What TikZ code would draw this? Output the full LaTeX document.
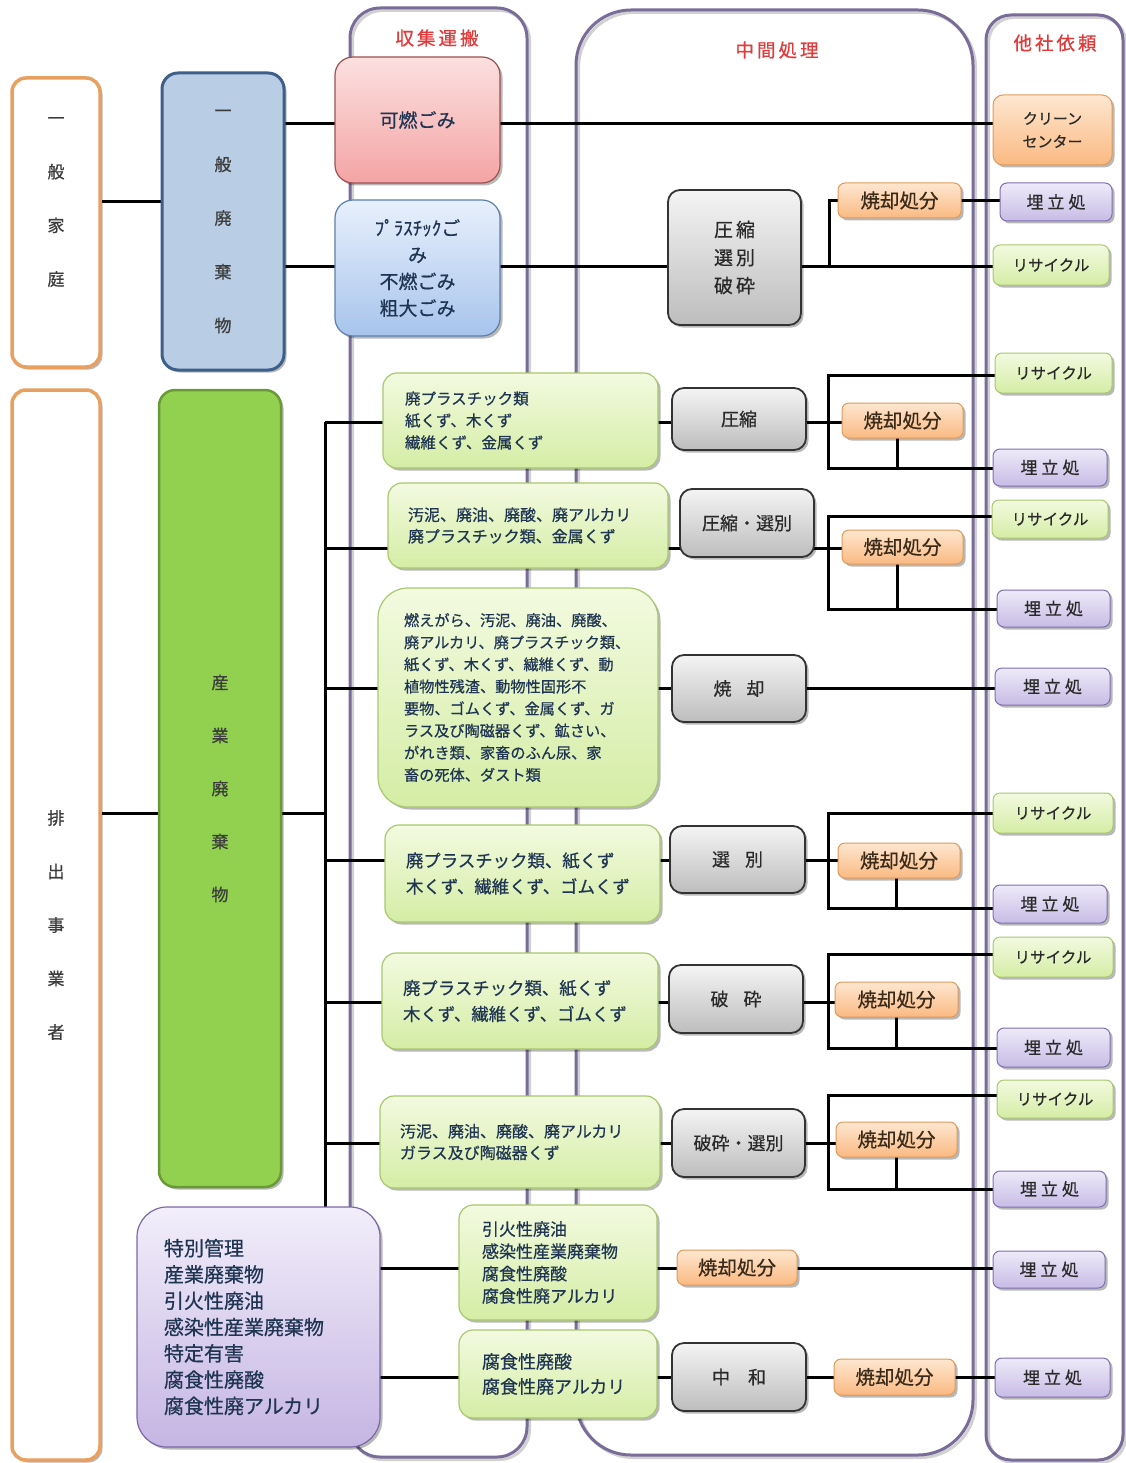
\documentclass[tikz,border=0pt]{standalone}
\usepackage{fontspec}
\setmainfont{Noto Sans CJK JP}[FakeBold=0.6]
\usetikzlibrary{shadows,calc}
\definecolor{cOrangeBd}{HTML}{E8A060}
\definecolor{cBlueFill}{HTML}{B9CDE5}
\definecolor{cBlueBd}{HTML}{3E5F8A}
\definecolor{cSangyoFill}{HTML}{92D050}
\definecolor{cSangyoBd}{HTML}{6A9A35}
\definecolor{cRedTop}{HTML}{FCE0E0}
\definecolor{cRedBot}{HTML}{F4A4A4}
\definecolor{cRedBd}{HTML}{A05050}
\definecolor{cPlaTop}{HTML}{E8F0FC}
\definecolor{cPlaBot}{HTML}{A7C4EC}
\definecolor{cPlaBd}{HTML}{5C7FB0}
\definecolor{cGreenTop}{HTML}{F3FAE0}
\definecolor{cGreenBot}{HTML}{D4EDA5}
\definecolor{cGreenBd}{HTML}{A9C86E}
\definecolor{cGrayTop}{HTML}{F4F4F4}
\definecolor{cGrayBot}{HTML}{BDBDBD}
\definecolor{cGrayBd}{HTML}{333333}
\definecolor{cOrTop}{HTML}{FEE7D0}
\definecolor{cOrBot}{HTML}{FAB982}
\definecolor{cOrBd}{HTML}{DF9A5A}
\definecolor{cPurTop}{HTML}{EEEAF8}
\definecolor{cPurBot}{HTML}{C7BCE6}
\definecolor{cPurBd}{HTML}{7F6FAF}
\definecolor{cTokuTop}{HTML}{F2EEFA}
\definecolor{cTokuBot}{HTML}{C5B5E3}
\definecolor{cTokuBd}{HTML}{7B68A6}
\definecolor{cCol}{HTML}{7A6C98}
\definecolor{cTitle}{HTML}{E23A3A}
\definecolor{cNavy}{HTML}{1F3552}
\definecolor{cDark}{HTML}{2A2A2A}
\definecolor{cBrown}{HTML}{3A2A1A}
\definecolor{cTxtGray}{HTML}{3C3C3C}

\pgfdeclarelayer{bg}
\pgfsetlayers{bg,main}

\newcommand{\mkbox}[7]{\node[#1, minimum width={(#5)-(#3)}, minimum height={(#6)-(#4)}] (#2) at ({((#3)+(#5))/2},{((#4)+(#6))/2}) {#7};}

\tikzset{
  every node/.style={inner sep=0pt, outer sep=0pt},
  shad/.style={drop shadow={shadow xshift=2.5pt,shadow yshift=-2.5pt,opacity=0.28,fill=black}},
  kateibox/.style={draw=cOrangeBd, line width=3.5pt, fill=white, rounded corners=14pt, shad, text=cTxtGray, align=center, font=\fontsize{17}{53.5}\selectfont},
  ippanbox/.style={draw=cBlueBd, line width=3pt, fill=cBlueFill, rounded corners=16pt, shad, text=cTxtGray, align=center, font=\fontsize{17}{53.7}\selectfont},
  sangyobox/.style={draw=cSangyoBd, line width=2.5pt, fill=cSangyoFill, rounded corners=16pt, shad, text=cTxtGray, align=center, font=\fontsize{17}{53}\selectfont},
  kanenbox/.style={draw=cRedBd, line width=1.2pt, top color=cRedTop, bottom color=cRedBot, rounded corners=18pt, shad, text=cNavy, align=center, font=\fontsize{19}{26.7}\selectfont},
  plabox/.style={draw=cPlaBd, line width=1.2pt, top color=cPlaTop, bottom color=cPlaBot, rounded corners=18pt, shad, text=cNavy, align=center, font=\fontsize{19}{26.7}\selectfont},
  greenbox/.style={draw=cGreenBd, line width=1.2pt, top color=cGreenTop, bottom color=cGreenBot, rounded corners=14pt, shad, text=cNavy, align=left},
  procbox/.style={draw=cGrayBd, line width=1.8pt, top color=cGrayTop, bottom color=cGrayBot, rounded corners=12pt, shad, text=cDark, align=center, font=\fontsize{18}{28}\selectfont},
  burnbox/.style={draw=cOrBd, line width=1pt, top color=cOrTop, bottom color=cOrBot, rounded corners=7pt, shad, text=cBrown, font=\fontsize{19.5}{22}\selectfont},
  landbox/.style={draw=cPurBd, line width=1pt, top color=cPurTop, bottom color=cPurBot, rounded corners=7pt, shad, text=cDark, font=\fontsize{17}{20}\selectfont},
  recbox/.style={draw=cGreenBd, line width=1pt, top color=cGreenTop, bottom color=cGreenBot, rounded corners=7pt, shad, text=cDark, font=\fontsize{15.5}{20}\selectfont},
  cleanbox/.style={draw=cOrBd, line width=1pt, top color=cOrTop, bottom color=cOrBot, rounded corners=10pt, shad, text=cDark, align=center, font=\fontsize{15}{23}\selectfont},
  tokubox/.style={draw=cTokuBd, line width=1.2pt, top color=cTokuTop, bottom color=cTokuBot, rounded corners=30pt, shad, text=cNavy, align=left, font=\fontsize{20}{26.3}\selectfont},
  conn/.style={line width=3pt, black},
  colline/.style={line width=3pt, draw=cCol},
  colshade/.style={line width=3pt, draw=black!18},
  coltitle/.style={text=cTitle, font=\fontsize{18.5}{20}\selectfont},
}

\begin{document}
\begin{tikzpicture}[x=1pt,y=-1pt]
\useasboundingbox (0,0) rectangle (1126,1463);
\begin{pgfonlayer}{bg}
\fill[white] (0,0) rectangle (1126,1463);
% columns
\draw[colshade, rounded corners=30pt] (352.5,10.5) rectangle (529.5,1459.5);
\draw[colshade, rounded corners=55pt] (578.5,12.5) rectangle (975.5,1457.5);
\draw[colshade, rounded corners=25pt] (988.5,17.5) rectangle (1125.5,1462.5);
\draw[colline, rounded corners=30pt] (350,8) rectangle (527,1457);
\draw[colline, rounded corners=55pt] (576,10) rectangle (973,1455);
\draw[colline, rounded corners=25pt] (986,15) rectangle (1123,1460);
\end{pgfonlayer}

% column titles
\node[coltitle] (tCollect) at (437,38) {収\hspace{3pt}集\hspace{3pt}運\hspace{3pt}搬};
\node[coltitle] (tMiddle) at (777,50) {中\hspace{3pt}間\hspace{3pt}処\hspace{3pt}理};
\node[coltitle] (tOther) at (1055,43) {他\hspace{3pt}社\hspace{3pt}依\hspace{3pt}頼};

% left column
\mkbox{kateibox}{katei}{12}{78}{100}{367}{}
\node[text=cTxtGray, align=center, font=\fontsize{17}{53.7}\selectfont] (kateiTxt) at (56,202) {一\\般\\家\\庭};
\mkbox{kateibox}{haishutsu}{12}{390}{100}{1460}{排\\出\\事\\業\\者}

\mkbox{ippanbox}{ippan}{162}{73}{284}{370}{一\\般\\廃\\棄\\物}
\mkbox{sangyobox}{sangyo}{159}{390}{281}{1187}{産\\業\\廃\\棄\\物}

% collection column
\mkbox{kanenbox}{kanen}{335}{57}{500}{183}{可燃ごみ}
\mkbox{plabox}{pla}{335}{200}{500}{336}{ﾌﾟﾗｽﾁｯｸご\\み\\不燃ごみ\\粗大ごみ}

\mkbox{greenbox, text width=231pt, inner xsep=22pt, font=\fontsize{15.5}{22}\selectfont}{g1}{383}{373}{658}{468}{廃プラスチック類\\紙くず、木くず\\繊維くず、金属くず}
\mkbox{greenbox, text width=240pt, inner xsep=20pt, font=\fontsize{16}{21.5}\selectfont}{g2}{388}{483}{668}{568}{汚泥、廃油、廃酸、廃アルカリ\\廃プラスチック類、金属くず}
\mkbox{greenbox, rounded corners=30pt, text width=228pt, inner xsep=26pt, font=\fontsize{15.2}{22.1}\selectfont}{g3}{378}{588}{658}{807}{燃えがら、汚泥、廃油、廃酸、\\廃アルカリ、廃プラスチック類、\\紙くず、木くず、繊維くず、動\\植物性残渣、動物性固形不\\要物、ゴムくず、金属くず、ガ\\ラス及び陶磁器くず、鉱さい、\\がれき類、家畜のふん尿、家\\畜の死体、ダスト類}
\mkbox{greenbox, text width=233pt, inner xsep=21pt, font=\fontsize{17.4}{26}\selectfont}{g4}{385}{825}{660}{922}{廃プラスチック類、紙くず\\木くず、繊維くず、ゴムくず}
\mkbox{greenbox, text width=234pt, inner xsep=21pt, font=\fontsize{17.4}{26}\selectfont}{g5}{382}{953}{658}{1049}{廃プラスチック類、紙くず\\木くず、繊維くず、ゴムくず}
\mkbox{greenbox, text width=240pt, inner xsep=20pt, font=\fontsize{16}{21.5}\selectfont}{g6}{380}{1096}{660}{1188}{汚泥、廃油、廃酸、廃アルカリ\\ガラス及び陶磁器くず}
\mkbox{greenbox, text width=152pt, inner xsep=23pt, font=\fontsize{17}{22.3}\selectfont}{g7}{459}{1205}{657}{1320}{引火性廃油\\感染性産業廃棄物\\腐食性廃酸\\腐食性廃アルカリ}
\mkbox{greenbox, text width=152pt, inner xsep=23pt, font=\fontsize{18}{25}\selectfont}{g8}{459}{1330}{657}{1418}{腐食性廃酸\\腐食性廃アルカリ}

\mkbox{tokubox, text width=189pt, inner xsep=27pt}{tokubetsu}{137}{1207}{380}{1447}{特別管理\\産業廃棄物\\引火性廃油\\感染性産業廃棄物\\特定有害\\腐食性廃酸\\腐食性廃アルカリ}

% process boxes
\mkbox{procbox, font=\fontsize{19}{28}\selectfont}{p0}{668}{190}{801}{325}{圧\hspace{3pt}縮\\選\hspace{3pt}別\\破\hspace{3pt}砕}
\mkbox{procbox}{p1}{672}{388}{806}{450}{圧縮}
\mkbox{procbox}{p2}{680}{489}{814}{557}{圧縮・選別}
\mkbox{procbox}{p3}{672}{655}{806}{722}{焼\hspace{15pt}却}
\mkbox{procbox}{p4}{670}{826}{805}{893}{選\hspace{15pt}別}
\mkbox{procbox}{p5}{669}{965}{803}{1033}{破\hspace{15pt}砕}
\mkbox{procbox}{p6}{672}{1109}{805}{1177}{破砕・選別}
\mkbox{procbox}{p7}{672}{1343}{806}{1411}{中\hspace{18pt}和}

% incineration boxes
\mkbox{burnbox}{sA}{838}{183}{961}{218}{焼却処分}
\mkbox{burnbox}{sB}{842}{403}{963}{438}{焼却処分}
\mkbox{burnbox}{sC}{842}{530}{963}{564}{焼却処分}
\mkbox{burnbox}{sD}{838}{843}{960}{878}{焼却処分}
\mkbox{burnbox}{sE}{835}{982}{958}{1017}{焼却処分}
\mkbox{burnbox}{sF}{836}{1122}{957}{1157}{焼却処分}
\mkbox{burnbox}{sG}{677}{1250}{797}{1285}{焼却処分}
\mkbox{burnbox}{sH}{834}{1359}{955}{1395}{焼却処分}

% right column
\mkbox{cleanbox}{clean}{993}{95}{1112}{165}{クリーン\\センター}
\mkbox{landbox}{u1}{1000}{183}{1112}{221}{埋\hspace{4pt}立\hspace{4pt}処}
\mkbox{recbox}{r1}{993}{245}{1109}{285}{リサイクル}
\mkbox{recbox}{r2}{995}{353}{1112}{393}{リサイクル}
\mkbox{landbox}{u2}{993}{449}{1107}{486}{埋\hspace{4pt}立\hspace{4pt}処}
\mkbox{recbox}{r3}{992}{500}{1108}{538}{リサイクル}
\mkbox{landbox}{u3}{997}{590}{1110}{627}{埋\hspace{4pt}立\hspace{4pt}処}
\mkbox{landbox}{u4}{995}{668}{1110}{705}{埋\hspace{4pt}立\hspace{4pt}処}
\mkbox{recbox}{r4}{993}{793}{1113}{833}{リサイクル}
\mkbox{landbox}{u5}{993}{885}{1107}{923}{埋\hspace{4pt}立\hspace{4pt}処}
\mkbox{recbox}{r5}{993}{937}{1113}{977}{リサイクル}
\mkbox{landbox}{u6}{997}{1028}{1110}{1067}{埋\hspace{4pt}立\hspace{4pt}処}
\mkbox{recbox}{r6}{997}{1080}{1113}{1118}{リサイクル}
\mkbox{landbox}{u7}{993}{1171}{1106}{1207}{埋\hspace{4pt}立\hspace{4pt}処}
\mkbox{landbox}{u8}{993}{1251}{1105}{1288}{埋\hspace{4pt}立\hspace{4pt}処}
\mkbox{landbox}{u9}{995}{1358}{1110}{1397}{埋\hspace{4pt}立\hspace{4pt}処}

\begin{pgfonlayer}{bg}
% row levels
\coordinate (yH) at (0,202);
\coordinate (yS) at (0,813);
\coordinate (yA) at (0,124);
\coordinate (yB) at (0,266);
\coordinate (busTop) at (325,422);
\coordinate (k0) at (829,266);
\coordinate (yr1) at (0,422);
\coordinate (yr2) at (0,548);
\coordinate (yr3) at (0,688);
\coordinate (yr4) at (0,860);
\coordinate (yr5) at (0,1002);
\coordinate (yr6) at (0,1143);
\coordinate (yr7) at (0,1268);
\coordinate (yr8) at (0,1377);
\coordinate (t1) at (828,375); \coordinate (e1) at (828,468);
\coordinate (t2) at (828,516); \coordinate (e2) at (828,609);
\coordinate (t4) at (828,813); \coordinate (e4) at (828,908);
\coordinate (t5) at (828,954); \coordinate (e5) at (828,1048);
\coordinate (t6) at (828,1095); \coordinate (e6) at (828,1189);

% general waste
\draw[conn] (katei.east |- yH) -- (ippan.west |- yH);
\draw[conn] (ippan.east |- yA) -- (kanen.west |- yA);
\draw[conn] (kanen.east |- yA) -- (clean.west |- yA);
\draw[conn] (ippan.east |- yB) -- (pla.west |- yB);
\draw[conn] (pla.east |- yB) -- (p0.west |- yB);
\draw[conn] (p0.east |- yB) -- (r1.west |- yB);
\draw[conn] (k0) |- (sA.west);
\draw[conn] (sA.east) -- (u1.west |- sA.east);

% industrial waste bus
\draw[conn] (haishutsu.east |- yS) -- (sangyo.west |- yS);
\draw[conn] (sangyo.east |- yS) -- (busTop |- yS);
\draw[conn] (busTop) -- (busTop |- tokubetsu.north);

% group 1
\draw[conn] (busTop |- yr1) -- (g1.west |- yr1);
\draw[conn] (g1.east |- yr1) -- (p1.west |- yr1);
\draw[conn] (p1.east |- yr1) -- (sB.west |- yr1);
\draw[conn] (r2.west |- t1) -- (t1) -- (e1) -- (u2.west |- e1);
\draw[conn] ([xshift=-5pt]sB.south) -- ([xshift=-5pt]sB.south |- e1);
% group 2
\draw[conn] (busTop |- yr2) -- (g2.west |- yr2);
\draw[conn] (g2.east |- yr2) -- (p2.west |- yr2);
\draw[conn] (p2.east |- yr2) -- (sC.west |- yr2);
\draw[conn] (r3.west |- t2) -- (t2) -- (e2) -- (u3.west |- e2);
\draw[conn] ([xshift=-5pt]sC.south) -- ([xshift=-5pt]sC.south |- e2);
% group 3
\draw[conn] (busTop |- yr3) -- (g3.west |- yr3);
\draw[conn] (g3.east |- yr3) -- (p3.west |- yr3);
\draw[conn] (p3.east |- yr3) -- (u4.west |- yr3);
% group 4
\draw[conn] (busTop |- yr4) -- (g4.west |- yr4);
\draw[conn] (g4.east |- yr4) -- (p4.west |- yr4);
\draw[conn] (p4.east |- yr4) -- (sD.west |- yr4);
\draw[conn] (r4.west |- t4) -- (t4) -- (e4) -- (u5.west |- e4);
\draw[conn] ([xshift=-3pt]sD.south) -- ([xshift=-3pt]sD.south |- e4);
% group 5
\draw[conn] (busTop |- yr5) -- (g5.west |- yr5);
\draw[conn] (g5.east |- yr5) -- (p5.west |- yr5);
\draw[conn] (p5.east |- yr5) -- (sE.west |- yr5);
\draw[conn] (r5.west |- t5) -- (t5) -- (e5) -- (u6.west |- e5);
\draw[conn] (sE.south) -- (sE.south |- e5);
% group 6
\draw[conn] (busTop |- yr6) -- (g6.west |- yr6);
\draw[conn] (g6.east |- yr6) -- (p6.west |- yr6);
\draw[conn] (p6.east |- yr6) -- (sF.west |- yr6);
\draw[conn] (r6.west |- t6) -- (t6) -- (e6) -- (u7.west |- e6);
\draw[conn] (sF.south) -- (sF.south |- e6);
% special management
\draw[conn] (tokubetsu.east |- yr7) -- (g7.west |- yr7);
\draw[conn] (g7.east |- yr7) -- (sG.west |- yr7);
\draw[conn] (sG.east |- yr7) -- (u8.west |- yr7);
\draw[conn] (tokubetsu.east |- yr8) -- (g8.west |- yr8);
\draw[conn] (g8.east |- yr8) -- (p7.west |- yr8);
\draw[conn] (p7.east |- yr8) -- (sH.west |- yr8);
\draw[conn] (sH.east |- yr8) -- (u9.west |- yr8);
\end{pgfonlayer}
\end{tikzpicture}
\end{document}
